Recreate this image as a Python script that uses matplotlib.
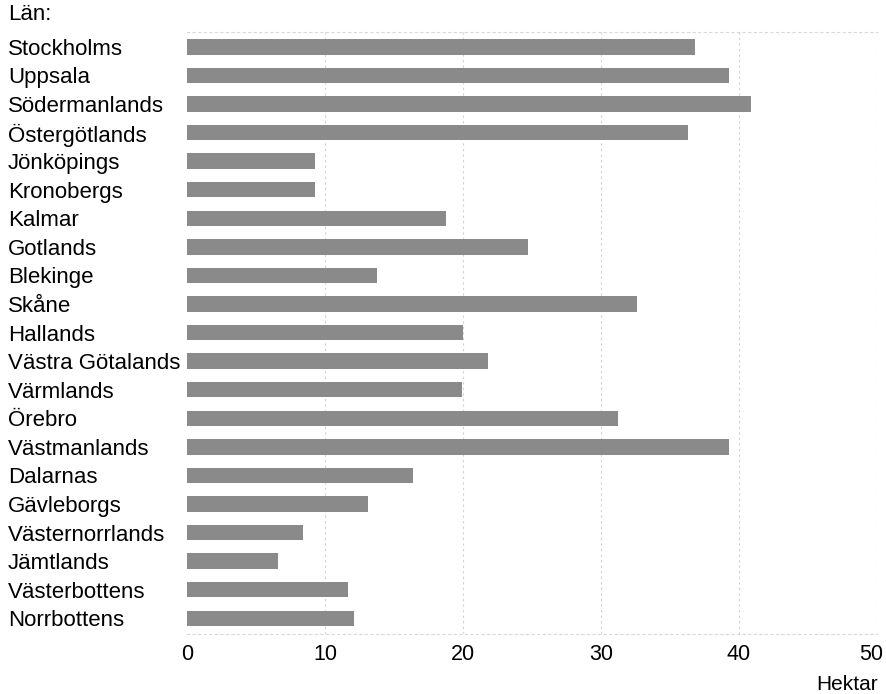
import matplotlib
matplotlib.use("Agg")
import matplotlib.pyplot as plt
from matplotlib.transforms import ScaledTranslation

lan = ["Stockholms", "Uppsala", "Södermanlands", "Östergötlands", "Jönköpings",
       "Kronobergs", "Kalmar", "Gotlands", "Blekinge", "Skåne", "Hallands",
       "Västra Götalands", "Värmlands", "Örebro", "Västmanlands", "Dalarnas",
       "Gävleborgs", "Västernorrlands", "Jämtlands", "Västerbottens", "Norrbottens"]
hektar = [36.8, 39.3, 40.9, 36.3, 9.3, 9.3, 18.8, 24.7, 13.8, 32.6, 20.0,
          21.8, 19.9, 31.2, 39.3, 16.4, 13.1, 8.4, 6.6, 11.7, 12.1]
xticks = [0, 10, 20, 30, 40, 50]

plt.rcParams['font.family'] = ['Liberation Sans', 'DejaVu Sans']

W, H, DPI = 886, 694, 100
fig = plt.figure(figsize=(W / DPI, H / DPI), dpi=DPI)
left, right, top, bottom = 187, 877, 32, 634
ax = fig.add_axes([left / W, 1 - bottom / H, (right - left) / W, (bottom - top) / H])

y = list(range(len(lan)))
ax.barh(y, hektar, height=0.54, color='#8a8a8a', zorder=2)

ax.set_xlim(0, 50)
ax.set_ylim(len(lan) - 0.45, -0.52)
ax.set_xticks(xticks)
ax.set_xticklabels([str(t) for t in xticks], fontsize=15.5)
ax.set_yticks(y)
ax.set_yticklabels(lan, fontsize=16, ha='left')
ax.tick_params(axis='y', length=0, pad=(left - 8) * 72 / DPI)
ax.tick_params(axis='x', length=0, pad=7)
last = ax.get_xticklabels()[-1]
last.set_transform(last.get_transform() + ScaledTranslation(-6 / DPI, 0, fig.dpi_scale_trans))

for t in xticks[1:]:
    ax.axvline(t, color='#d0d0d0', lw=0.8, ls=(0, (2, 3)), zorder=1)
for s in ['right', 'left']:
    ax.spines[s].set_visible(False)
for s in ['top', 'bottom']:
    ax.spines[s].set_color('#d8d8d8')
    ax.spines[s].set_linestyle((0, (2, 3)))
    ax.spines[s].set_linewidth(0.8)

fig.text(8 / W, 1 - 14 / H, "Län:", fontsize=16, ha='left', va='center')
fig.text(878 / W, 1 - 684 / H, "Hektar", fontsize=15, ha='right', va='center')

fig.savefig("out.png", dpi=DPI)
